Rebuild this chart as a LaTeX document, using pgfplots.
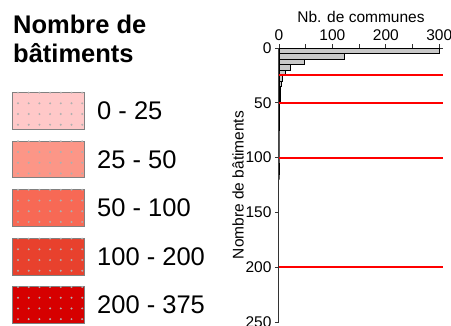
\documentclass[border=0pt]{standalone}
\usepackage{pgfplots}
\pgfplotsset{compat=1.18}
\usepackage{fontspec}
\setmainfont{Liberation Sans}
\definecolor{c1}{RGB}{255,200,200}
\definecolor{c2}{RGB}{252,150,135}
\definecolor{c3}{RGB}{247,105,85}
\definecolor{c4}{RGB}{232,65,45}
\definecolor{c5}{RGB}{214,0,0}
\definecolor{dotgray}{RGB}{175,175,175}
\definecolor{bargray}{RGB}{200,200,200}
\definecolor{boxborder}{RGB}{128,128,128}
\definecolor{limred}{RGB}{255,0,0}
\begin{document}
\begin{tikzpicture}
\useasboundingbox (0,0) rectangle (451pt,-325pt);
\node[anchor=base west, font=\bfseries\fontsize{25.5}{29}\selectfont, inner sep=0] at (13pt,-33pt) {Nombre de};
\node[anchor=base west, font=\bfseries\fontsize{25.5}{29}\selectfont, inner sep=0] at (13pt,-62pt) {bâtiments};
\foreach \c/\t/\lab in {c1/-92.3pt/0 - 25, c2/-141pt/25 - 50, c3/-189.5pt/50 - 100, c4/-238.3pt/100 - 200, c5/-286.7pt/200 - 375}{
  \begin{scope}[shift={(12.3pt,\t)}]
    \fill[\c] (0,0) rectangle (72pt,-36.7pt);
    \draw[boxborder, line width=0.9pt] (0,0) rectangle (72pt,-36.7pt);
    \foreach \dx in {5.7pt,16.4pt,27.1pt,37.8pt,48.5pt,59.2pt,69.9pt}
      \foreach \dy in {-0.3pt,-11pt,-21.7pt,-32.4pt}
        \fill[dotgray] (\dx,\dy) circle (1.1pt);
    \node[anchor=west, inner sep=0, font=\fontsize{25.5}{29}\selectfont] at (84.7pt,-18.35pt) {\lab};
  \end{scope}
}
\begin{axis}[
  at={(279pt,-48pt)}, anchor=north west,
  width=164pt, height=274pt, scale only axis,
  xmin=0, xmax=307, ymin=0, ymax=250,
  y dir=reverse,
  axis x line=top, axis y line=left,
  axis line style={-, line width=1pt, black!80},
  xtick={0,100,200,300}, minor xtick={50,150,250},
  ytick={0,50,100,150,200,250},
  tick align=outside,
  major tick length=4pt, minor tick length=4pt,
  tick style={line width=0.8pt, black!80},
  tick label style={font=\fontsize{15.5}{18}\selectfont},
  label style={font=\fontsize{15.5}{18}\selectfont},
  /pgf/number format/assume math mode=true,
  xlabel={Nb. de communes},
  ylabel={Nombre de bâtiments},
  ylabel style={at={(axis description cs:-0.25,0.5)}, anchor=center},
  clip=false,
]
\addplot[xbar interval, fill=bargray, draw=black, line width=0.7pt, forget plot] coordinates {
 (300,0) (122,5) (47,10) (21,15) (11,20) (6,25) (4,30) (3,35) (2,40) (2,45)
 (1,50) (1,55) (1,60) (1,65) (1,70) (0,75) (0,80) (0,85) (0,90) (0,95) (0,100)
 (1,105) (1,110) (0,115) (0,120)
};
\pgfplotsinvokeforeach{25,50,100,200}{
\addplot[sharp plot, draw=limred, line width=2pt, mark=none, forget plot] coordinates {(0,#1) (307,#1)};
}
\end{axis}
\end{tikzpicture}
\end{document}
